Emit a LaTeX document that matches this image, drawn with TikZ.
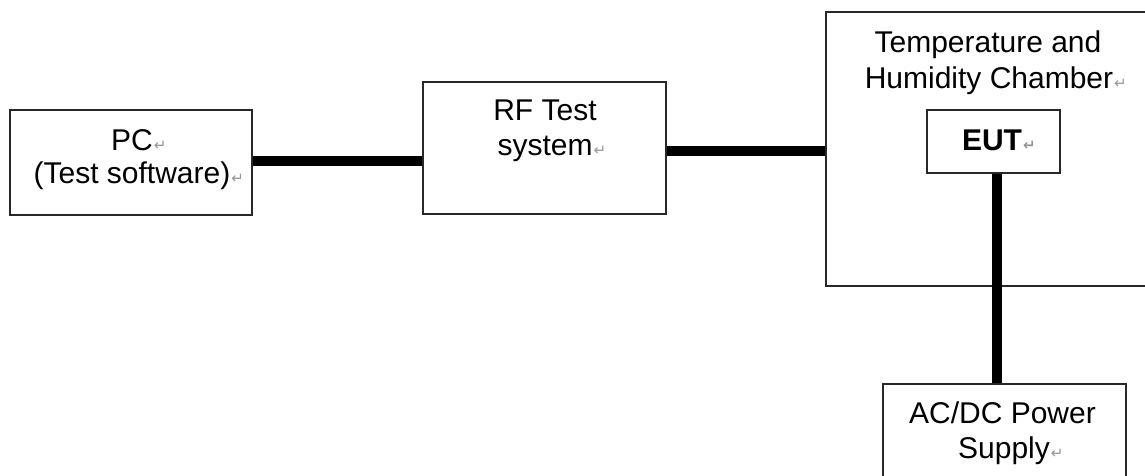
\documentclass[tikz,border=0pt]{standalone}
\usepackage{fontspec}
\setmainfont{Liberation Sans}
\newfontfamily\markfont{DejaVu Sans}
\definecolor{markgray}{RGB}{150,150,150}
\definecolor{boxline}{RGB}{40,40,40}
\newcommand{\pmark}{\rlap{\hspace{1pt}{\markfont\fontsize{15}{15}\selectfont\color{markgray}↵}}}
\begin{document}
\begin{tikzpicture}[x=1pt,y=-1pt,
  box/.style={draw=boxline,line width=1.5pt,fill=white,rectangle,inner sep=0pt},
  wire/.style={line width=10pt,line cap=butt,black},
  lbl/.style={anchor=base,inner sep=0pt,font=\fontsize{30}{35}\selectfont}]
\useasboundingbox (0,0) rectangle (1145,475);
\clip (0,0) rectangle (1145,475);
% boxes
\node[box,minimum width=242pt,minimum height=105pt] (pc) at (131,162.5) {};
\node[box,minimum width=243pt,minimum height=132pt] (rf) at (544.5,148) {};
\node[box,minimum width=340pt,minimum height=274pt] (ch) at (996,149) {};
\node[box,minimum width=133pt,minimum height=63pt] (eut) at (993.5,141.5) {};
\node[box,minimum width=243pt,minimum height=120pt] (ps) at (1004.5,444) {};
% connectors
\draw[wire] (pc.east |- 0,161) -- (rf.west |- 0,161);
\draw[wire] (rf.east |- 0,151) -- (ch.west |- 0,151);
\draw[wire] (eut.south -| 997,0) -- (ps.north -| 997,0);
% labels
\node[lbl] (pct1) at (132,150) {PC\pmark};
\node[lbl] (pct2) at (132,183) {(Test software)\pmark};
\node[lbl] (rft1) at (545,120) {RF Test};
\node[lbl] (rft2) at (545,155) {system\pmark};
\node[lbl] (cht1) at (988,52) {Temperature and};
\node[lbl] (cht2) at (989,88) {Humidity Chamber\pmark};
\node[lbl,font=\fontsize{30}{35}\selectfont\bfseries] (eutt) at (992,150) {EUT\pmark};
\node[lbl] (pst1) at (1002.5,423) {AC/DC Power};
\node[lbl] (pst2) at (1004,458) {Supply\pmark};
\end{tikzpicture}
\end{document}
